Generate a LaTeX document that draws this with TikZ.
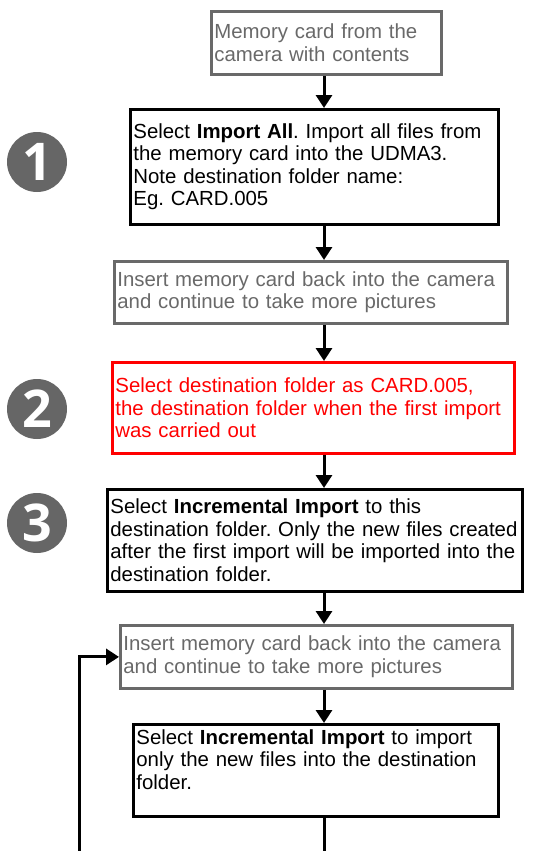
\documentclass[tikz,border=0pt]{standalone}
\usepackage{fontspec}
\setmainfont{Liberation Sans}
\newfontfamily\numfont{Open Sans}
\usepackage{tikz}
\usetikzlibrary{positioning,arrows.meta}
\usepackage{xcolor}
\definecolor{boxgray}{RGB}{105,105,105}
\definecolor{numgray}{RGB}{102,102,102}
\definecolor{redline}{RGB}{255,0,0}
\newcommand{\boxfont}{\fontsize{20.4}{22.5}\selectfont\frenchspacing\hyphenpenalty=10000\relax}
\tikzset{
	stepbox/.style={draw, line width=2.8pt, anchor=north west, align=left,
		inner xsep=3pt, inner ysep=2pt, font=\boxfont},
	graybox/.style={stepbox, draw=boxgray, text=boxgray},
	redbox/.style={stepbox, draw=redline, text=redline},
	stepnum/.style={circle, fill=numgray, minimum size=60pt, inner sep=0pt,
		text=white, font=\numfont\bfseries\fontsize{52}{52}\selectfont},
	>={Triangle[length=13pt,width=16pt]}
}

\begin{document}
\begin{tikzpicture}[x=1pt, y=-1pt, line width=3pt]
		\useasboundingbox (0, 0) rectangle (537, 851);

		\node[graybox, minimum width=230pt, minimum height=63pt, text width=224pt] (card) at (210, 10)
			{Memory card from the\\camera with contents};
		\node[stepbox, minimum width=368pt, minimum height=115pt, text width=362pt] (importall) at (129, 108)
			{Select \textbf{Import All}. Import all files from\\the memory card into the UDMA3.\\Note destination folder name:\\Eg. CARD.005};
		\node[graybox, minimum width=393pt, minimum height=62pt, text width=387pt] (insertA) at (113, 260)
			{Insert memory card back into the camera\\and continue to take more pictures};
		\node[redbox, minimum width=402pt, minimum height=91pt, text width=396pt] (destfolder) at (111, 361)
			{Select destination folder as CARD.005,\\the destination folder when the first import\\was carried out};
		\node[stepbox, minimum width=415pt, minimum height=102pt, text width=409pt] (incrA) at (106, 488)
			{Select \textbf{Incremental Import} to this\\\mbox{destination folder. Only the new files created}\\after the first import will be imported into the\\destination folder.};
		\node[graybox, minimum width=392pt, minimum height=63pt, text width=386pt] (insertB) at (119, 624)
			{Insert memory card back into the camera\\and continue to take more pictures};
		\node[stepbox, minimum width=365pt, minimum height=92pt, text width=359pt] (incrB) at (132, 723)
			{Select \textbf{Incremental Import} to import\\only the new files into the destination\\folder.\\\mbox{}};

		% step numbers
		\node[stepnum] (one) at (37, 162) {1};
		\node[stepnum] (two) at (37, 409) {2};
		\node[stepnum] (three) at (37, 523) {3};

		\coordinate (spine) at (324, 0);
		\coordinate (tail) at (324, 851);
		\coordinate (loopstart) at (79, 851);

		\draw[->] (spine |- card.south) -- (spine |- importall.north);
		\draw[->] (spine |- importall.south) -- (spine |- insertA.north);
		\draw[->] (spine |- insertA.south) -- (spine |- destfolder.north);
		\draw[->] (spine |- destfolder.south) -- (spine |- incrA.north);
		\draw[->] (spine |- incrA.south) -- (spine |- insertB.north);
		\draw[->] (spine |- insertB.south) -- (spine |- incrB.north);
		\draw (spine |- incrB.south) -- (tail);
		\draw[->] (loopstart) |- (insertB.west);
	\end{tikzpicture}
\end{document}
